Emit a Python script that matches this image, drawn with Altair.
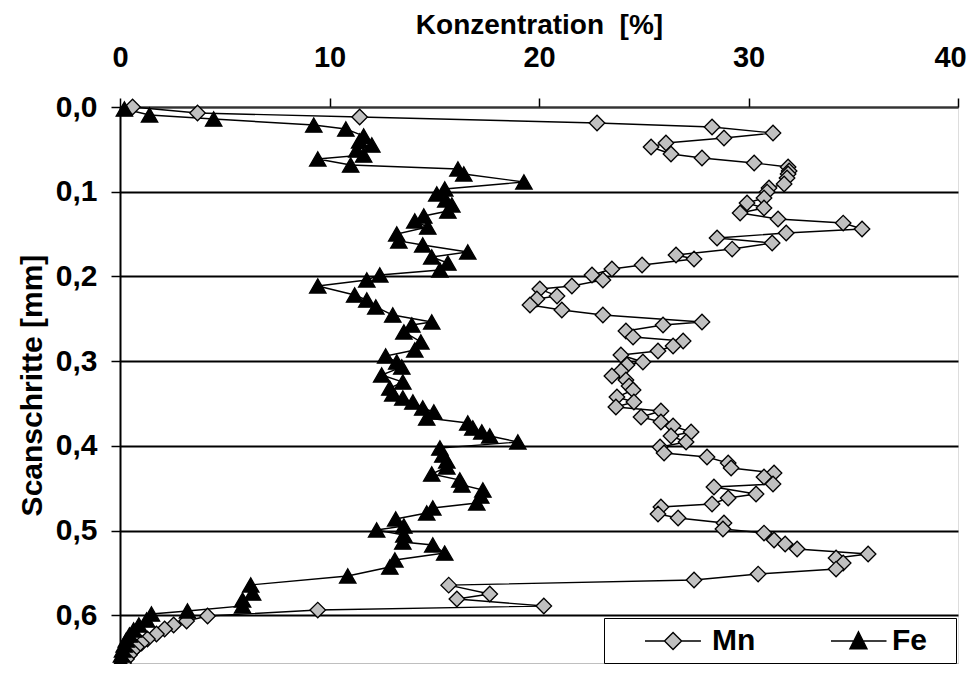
import altair as alt
import pandas as pd

# Mn series (concentration %, scan step mm)
mn_conc = [0.60, 3.70, 11.44, 22.77, 28.26, 31.17, 28.83, 26.06, 25.35, 26.30,
           27.78, 30.27, 31.89, 31.94, 31.89, 31.84, 31.70, 30.98, 30.89, 30.74,
           29.93, 30.74, 29.60, 31.41, 34.52, 35.42, 31.80, 28.50, 31.13, 29.22,
           26.54, 27.40, 24.92, 23.48, 22.53, 23.05, 21.57, 20.04, 20.86, 19.90,
           19.57, 21.09, 23.05, 27.78, 25.92, 24.15, 24.49, 26.88, 26.40, 25.68,
           23.91, 24.96, 24.20, 23.91, 23.48, 24.15, 24.30, 24.49, 23.72, 24.53,
           23.67, 25.82, 24.87, 25.82, 26.40, 27.26, 26.30, 27.02, 25.78, 25.97,
           28.02, 29.03, 29.17, 31.22, 30.74, 31.17, 28.35, 30.36, 29.03, 28.26,
           25.82, 25.68, 26.64, 28.83, 28.78, 30.74, 31.22, 31.75, 32.32, 35.71,
           34.18, 34.52, 34.18, 30.46, 27.40, 15.69, 17.65, 16.08, 20.23, 9.44,
           4.18, 3.18, 2.56, 2.13, 1.74, 1.31, 1.03, 0.79, 0.60, 0.45, 0.31, 0.17]
mn_depth = [0.000, 0.0071, 0.0118, 0.0189, 0.0236, 0.0307, 0.0366, 0.0425, 0.0472, 0.0555,
            0.0602, 0.0661, 0.0708, 0.0756, 0.0791, 0.0838, 0.0909, 0.0956, 0.1004, 0.1074,
            0.1133, 0.1192, 0.1251, 0.1322, 0.1370, 0.1440, 0.1488, 0.1547, 0.1606, 0.1677,
            0.1747, 0.1795, 0.1865, 0.1913, 0.1983, 0.2042, 0.2113, 0.2149, 0.2231, 0.2267,
            0.2338, 0.2397, 0.2456, 0.2538, 0.2574, 0.2645, 0.2715, 0.2763, 0.2822, 0.2881,
            0.2928, 0.3011, 0.3046, 0.3117, 0.3176, 0.3223, 0.3294, 0.3341, 0.3424, 0.3483,
            0.3542, 0.3589, 0.3660, 0.3719, 0.3766, 0.3837, 0.3884, 0.3955, 0.4014, 0.4085,
            0.4132, 0.4203, 0.4262, 0.4321, 0.4368, 0.4451, 0.4486, 0.4569, 0.4616, 0.4687,
            0.4722, 0.4805, 0.4852, 0.4911, 0.4982, 0.5030, 0.5112, 0.5159, 0.5218, 0.5277,
            0.5325, 0.5384, 0.5455, 0.5514, 0.5584, 0.5645, 0.5750, 0.5809, 0.5891, 0.5939,
            0.6009, 0.6068, 0.6116, 0.6163, 0.6222, 0.6281, 0.6329, 0.6376, 0.6423, 0.6470, 0.6517, 0.6564]

# Fe series
fe_conc = [0.21, 1.41, 4.47, 9.25, 10.78, 11.63, 11.44, 12.02, 11.30, 11.63,
           9.44, 11.01, 16.13, 16.41, 19.28, 15.50, 15.12, 15.55, 15.84, 15.65,
           14.50, 14.07, 14.69, 13.21, 13.31, 14.45, 16.60, 14.88, 15.65, 15.27,
           12.40, 11.78, 9.44, 11.20, 11.78, 12.21, 13.02, 14.88, 13.93, 13.55,
           14.36, 14.07, 12.68, 13.21, 13.45, 12.49, 13.50, 12.88, 13.02, 13.50,
           13.98, 14.45, 14.98, 14.64, 16.60, 16.84, 17.27, 17.65, 18.99, 15.27,
           15.41, 15.60, 15.60, 14.88, 16.22, 16.32, 17.32, 17.22, 17.03, 14.93,
           14.64, 13.16, 13.55, 12.25, 13.55, 13.50, 14.93, 15.50, 13.12, 12.88,
           10.87, 6.24, 6.33, 5.85, 5.85, 3.22, 1.50, 1.27, 0.90, 0.65,
           0.45, 0.30, 0.20, 0.12, 0.07, 0.03, 0.01]
fe_depth = [0.0024, 0.0094, 0.0142, 0.0213, 0.0260, 0.0342, 0.0401, 0.0449, 0.0508, 0.0567,
            0.0614, 0.0685, 0.0732, 0.0791, 0.0885, 0.0968, 0.1027, 0.1098, 0.1157, 0.1228,
            0.1287, 0.1346, 0.1417, 0.1499, 0.1582, 0.1629, 0.1712, 0.1771, 0.1842, 0.1924,
            0.1983, 0.2042, 0.2113, 0.2220, 0.2279, 0.2361, 0.2456, 0.2538, 0.2574, 0.2656,
            0.2774, 0.2869, 0.2940, 0.3011, 0.3070, 0.3164, 0.3247, 0.3318, 0.3388, 0.3436,
            0.3483, 0.3554, 0.3601, 0.3672, 0.3731, 0.3790, 0.3837, 0.3884, 0.3955, 0.4026,
            0.4109, 0.4179, 0.4250, 0.4333, 0.4404, 0.4463, 0.4522, 0.4593, 0.4675, 0.4734,
            0.4793, 0.4864, 0.4947, 0.4994, 0.5053, 0.5136, 0.5171, 0.5266, 0.5348, 0.5431,
            0.5537, 0.5643, 0.5738, 0.5820, 0.5890, 0.5950, 0.5986, 0.6057, 0.6116, 0.6175,
            0.6234, 0.6293, 0.6352, 0.6411, 0.6470, 0.6529, 0.6576]

series_names = ["Mn", "Fe"]
series_fill = ["#c0c0c0", "#000000"]
x_ticks = [0, 10, 20, 30, 40]
y_ticks = [0.0, 0.1, 0.2, 0.3, 0.4, 0.5, 0.6]

rows = []
for name, xs, ys in (("Mn", mn_conc, mn_depth), ("Fe", fe_conc, fe_depth)):
    for i, (c, d) in enumerate(zip(xs, ys)):
        rows.append({"conc": c, "depth": d, "series": name, "i": i})
df = pd.DataFrame(rows)

FONT = "Liberation Sans"
FS = 30

xscale = alt.Scale(domain=[0, 40], nice=False, zero=False)
yscale = alt.Scale(domain=[0, 0.6576], reverse=True, nice=False, zero=False)

x_top = alt.Axis(orient="top", values=x_ticks, title="Konzentration\u00a0\u00a0[%]", labelFlush=False,
                 labelOffset={"condition": {"test": "datum.value == 40", "value": -8}, "value": 0},
                 labelFont=FONT, labelFontSize=29, labelFontWeight="bold", labelColor="black",
                 labelBaseline="alphabetic", labelPadding=32, tickSize=9, tickColor="black",
                 tickWidth=1.5, domainColor="#333333", domainWidth=1.5, grid=False,
                 titleFont=FONT, titleFontSize=28, titleFontWeight="bold", titleColor="black",
                 titleBaseline="alphabetic", titleY=-74, titleX=419, titleAlign="center")
y_left = alt.Axis(orient="left", values=y_ticks, labelFlush=False,
                  labelExpr="replace(format(datum.value, '.1f'), '.', ',')",
                  labelFont=FONT, labelFontSize=FS, labelFontWeight="bold", labelColor="black",
                  labelPadding=14, tickSize=9, tickColor="black", tickWidth=1.5,
                  domainColor="black", domainWidth=2, grid=True, gridColor="black", gridWidth=2,
                  title="Scanschritte [mm]", titleFont=FONT, titleFontSize=FS,
                  titleFontWeight="bold", titleColor="black", titleBaseline="alphabetic",
                  titleX=-79, titleY=278, titleAlign="center", titleAngle=270)

base = alt.Chart(df)

lines = base.mark_line(color="black", strokeWidth=1.4, clip=False).encode(
    x=alt.X("conc:Q", scale=xscale, axis=x_top),
    y=alt.Y("depth:Q", scale=yscale, axis=y_left),
    detail="series:N",
    order="i:Q",
)

mn_points = base.transform_filter("datum.series == 'Mn'").mark_point(
    shape="diamond", filled=True, fill=series_fill[0], stroke="black", strokeWidth=1.3,
    opacity=1, size=240, clip=False
).encode(
    x=alt.X("conc:Q", scale=xscale, axis=None),
    y=alt.Y("depth:Q", scale=yscale, axis=None),
)

fe_points = base.transform_filter("datum.series == 'Fe'").mark_point(
    shape="triangle-up", filled=True, fill=series_fill[1], stroke="black", strokeWidth=1.3,
    opacity=1, size=270, clip=False
).encode(
    x=alt.X("conc:Q", scale=xscale, axis=None),
    y=alt.Y("depth:Q", scale=yscale, axis=None),
)

mn_sym = "M1.2,0H2.5M3.64,0H4.93M2.5,0L3.07,-0.57L3.64,0L3.07,0.57Z"
fe_sym = "M1.6,0H5.3M3.43,-0.62L4.0,0.52L2.86,0.52Z"

legend_cfg = dict(title="MM", titleOrient="right", titleOpacity=0, titleFontSize=13,
                  titleFont=FONT, titleFontWeight="bold", titlePadding=0,
                  orient="none", legendX=484, legendY=511, direction="horizontal",
                  strokeColor="black", fillColor="white", padding=7,
                  symbolSize=900, symbolStrokeColor="black", symbolStrokeWidth=1.4,
                  labelOffset=69, columnPadding=35, labelFont=FONT, labelFontSize=FS,
                  labelFontWeight="bold", labelColor="black", labelBaseline="middle")

legend_layer = base.transform_filter("false").mark_point(filled=True, stroke="black", opacity=1).encode(
    x=alt.X("conc:Q", scale=xscale,
            axis=alt.Axis(orient="bottom", labels=False, ticks=False, title=None, grid=False,
                          domainColor="#808080", domainWidth=2)),
    y=alt.Y("depth:Q", scale=yscale, axis=None),
    shape=alt.Shape("series:N", scale=alt.Scale(domain=series_names, range=[mn_sym, fe_sym]),
                    legend=alt.Legend(**legend_cfg)),
    fill=alt.Fill("series:N", scale=alt.Scale(domain=series_names, range=series_fill),
                  legend=alt.Legend(**legend_cfg)),
    stroke=alt.Stroke("series:N", scale=alt.Scale(domain=series_names, range=["#000000", "#000000"]),
                      legend=alt.Legend(**legend_cfg)),
)

chart = alt.layer(lines, mn_points, fe_points, legend_layer).resolve_axis(
    x="independent", y="independent"
).properties(
    width=838, height=557,
    autosize=alt.AutoSizeParams(type="none"),
    padding={"left": 112, "top": 99, "right": 10, "bottom": 0},
).configure_view(stroke=None).configure_legend(strokeWidth=3).configure(background="white")

chart.save("out.html", embed_options={"renderer": "svg", "actions": False})
